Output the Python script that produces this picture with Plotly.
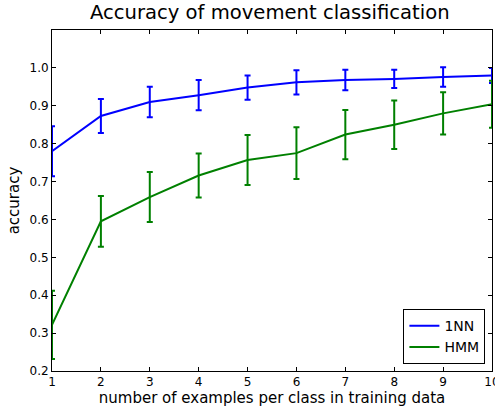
import plotly.graph_objects as go

x_vals = [1, 2, 3, 4, 5, 6, 7, 8, 9, 10]
nn_acc = [0.780, 0.873, 0.910, 0.928, 0.948, 0.962, 0.968, 0.971, 0.976, 0.980]
nn_err = [0.066, 0.045, 0.040, 0.040, 0.032, 0.032, 0.027, 0.024, 0.026, 0.020]
hmm_acc = [0.322, 0.595, 0.659, 0.716, 0.757, 0.775, 0.824, 0.850, 0.880, 0.904]
hmm_err = [0.090, 0.067, 0.066, 0.058, 0.066, 0.068, 0.065, 0.064, 0.056, 0.062]
y_ticks = [0.2, 0.3, 0.4, 0.5, 0.6, 0.7, 0.8, 0.9, 1.0]

font_family = "DejaVu Sans"

fig = go.Figure()
fig.add_trace(go.Scatter(
    x=x_vals, y=nn_acc, name="1NN", mode="lines",
    line=dict(color="#0000ff", width=2),
    error_y=dict(type="data", array=nn_err, visible=True, color="#0000ff", thickness=2, width=3),
))
fig.add_trace(go.Scatter(
    x=x_vals, y=hmm_acc, name="HMM", mode="lines",
    line=dict(color="#008000", width=2),
    error_y=dict(type="data", array=hmm_err, visible=True, color="#008000", thickness=2, width=3),
))

axis_common = dict(
    showgrid=False, zeroline=False, showline=True, linecolor="black", linewidth=1,
    mirror="ticks", ticks="inside", ticklen=4, tickcolor="black",
    tickfont=dict(family=font_family, size=12, color="black"),
    ticklabeloverflow="allow", automargin=False,
)

fig.update_layout(
    width=495, height=408,
    margin=dict(l=52, r=3, t=30, b=37),
    paper_bgcolor="white", plot_bgcolor="white",
    font=dict(family=font_family, color="black"),
    title=dict(text="Accuracy of movement classification", x=0.545, xanchor="center",
               y=0.988, yanchor="top", font=dict(family=font_family, size=19.6, color="black")),
    xaxis=dict(range=[1, 10], tickvals=x_vals, ticktext=[str(v) for v in x_vals],
               title=dict(text="number of examples per class in training data",
                          font=dict(family=font_family, size=15), standoff=3),
               **axis_common),
    yaxis=dict(range=[0.2, 1.1], tickvals=y_ticks, tickformat=".1f",
               title=dict(text="accuracy", font=dict(family=font_family, size=15), standoff=6),
               **axis_common),
    legend=dict(x=0.985, y=0.02, xanchor="right", yanchor="bottom",
                bordercolor="black", borderwidth=1, bgcolor="white",
                font=dict(family=font_family, size=14, color="black"),
                tracegroupgap=0),
    showlegend=True,
)

fig.write_html("out.html")
